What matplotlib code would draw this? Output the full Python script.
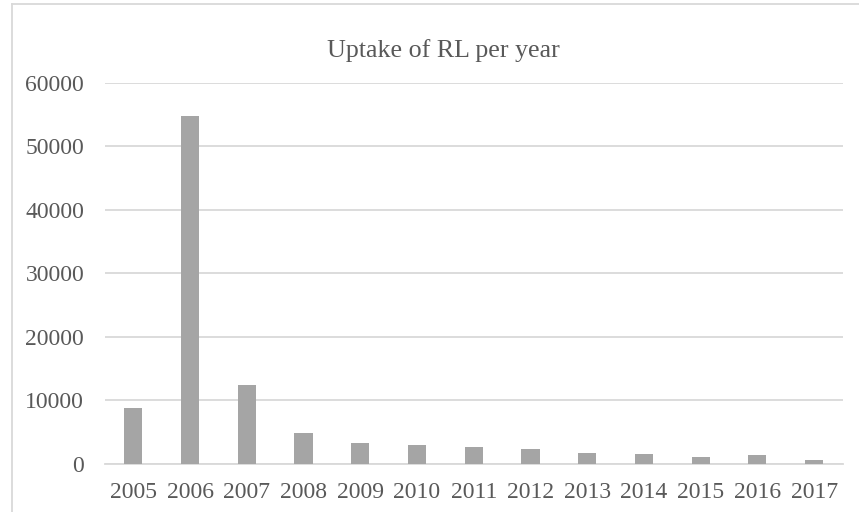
import matplotlib.pyplot as plt
import numpy as np
from matplotlib.lines import Line2D

# yearly uptake of RL
years = ["2005", "2006", "2007", "2008", "2009", "2010", "2011",
         "2012", "2013", "2014", "2015", "2016", "2017"]
uptake = [8800, 54750, 12500, 4850, 3300, 3050, 2600,
          2330, 1800, 1600, 1100, 1370, 630]
yticks = [0, 10000, 20000, 30000, 40000, 50000, 60000]

plt.rcParams['font.family'] = ['Liberation Serif', 'DejaVu Serif']
text_col = "#595959"

fig = plt.figure(figsize=(8.59, 5.12), dpi=100)
ax = fig.add_axes([0.1222, 0.0938, 0.8586, 0.7447])

x = np.arange(len(years))
ax.bar(x, uptake, width=0.32, color="#A5A5A5", zorder=3)

ax.set_xlim(-0.5, len(years) - 0.5)
ax.set_ylim(0, 60000)
ax.set_yticks(yticks)
ax.set_yticklabels([str(v) for v in yticks])
ax.set_xticks(x)
ax.set_xticklabels(years)
ax.tick_params(axis="both", length=0, labelsize=17, colors=text_col)
ax.tick_params(axis="y", pad=15)
ax.tick_params(axis="x", pad=13)
ax.grid(axis="y", color="#D9D9D9", linewidth=1.3, zorder=0)
for s in ["top", "right", "left"]:
    ax.spines[s].set_visible(False)
ax.spines["bottom"].set_color("#D9D9D9")
ax.spines["bottom"].set_linewidth(1.3)

fig.text(0.516, 0.889, "Uptake of RL per year", ha="center", va="baseline",
         fontsize=18.7, color=text_col)

# chart frame: only the left and top edges fall inside the image
fig.lines.append(Line2D([12 / 859, 12 / 859], [0, 1 - 4 / 512], transform=fig.transFigure,
                        color="#D9D9D9", linewidth=1.3))
fig.lines.append(Line2D([12 / 859, 1], [1 - 4 / 512, 1 - 4 / 512], transform=fig.transFigure,
                        color="#D9D9D9", linewidth=1.3))

fig.savefig("out.png", dpi=100)
